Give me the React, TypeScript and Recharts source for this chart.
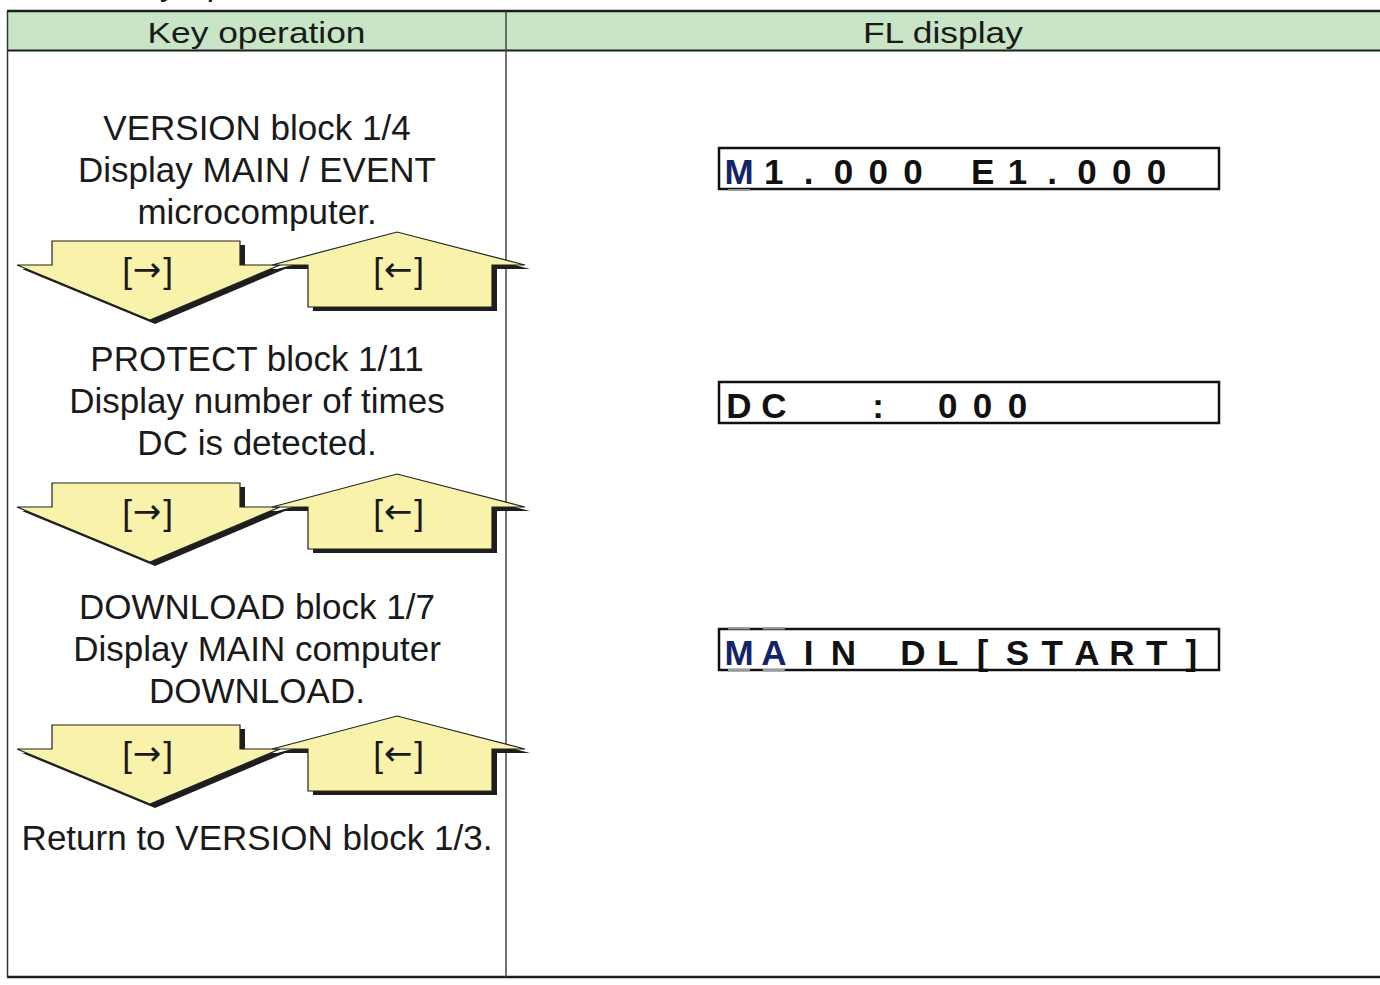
import React from 'react';
import { ComposedChart, XAxis, YAxis, Scatter, ReferenceArea, ReferenceLine } from 'recharts';

// ---------- content ----------
const headers = ['Key operation', 'FL display'];
const cutOffText = 'Key operation';
const blockTexts: string[][] = [
  ['VERSION block 1/4', 'Display MAIN / EVENT', 'microcomputer.'],
  ['PROTECT block 1/11', 'Display number of times', 'DC is detected.'],
  ['DOWNLOAD block 1/7', 'Display MAIN computer', 'DOWNLOAD.'],
  ['Return to VERSION block 1/3.'],
];
const arrowKeys = ['→', '←'];
const displayTexts = ['M1.000 E1.000', 'DC  : 000', 'MAIN DL[START]'];
const highlightCounts = [1, 0, 2];

// ---------- layout ----------
const W = 1380;
const H = 985;
const FONT = '"Liberation Sans", Arial, Helvetica, sans-serif';
const ARROW_FONT = '"DejaVu Sans", sans-serif';
const TABLE_LEFT = 7;
const DIVIDER = 506;
const TABLE_RIGHT = 1380;
const TOP_LINE = 11;
const HEADER_BOTTOM = 50.5;
const BOTTOM_LINE = 977;
const LEFT_CENTER = 257;
const BLOCK_BASELINES = [140, 371, 619, 850];
const LINE_HEIGHT = 42;
const ARROW_TOPS = [241, 483, 725];
const DISPLAY_TOPS = [148, 382, 629];
const BOX_LEFT = 719;
const BOX_RIGHT = 1219;
const BOX_H = 41;
const CELL_START = 739;
const CELL_PITCH = 34.8;

const TEXT_COLOR = '#1a1a1a';
const GREEN = '#c8e6c5';
const YELLOW = '#f9f2aa';
const NAVY = '#13236b';

const DOWN_ARROW = [[17, 24], [52, 24], [52, 0], [240, 0], [240, 24], [280, 24], [150, 79]];
const UP_ARROW = [[272, 24], [308, 24], [308, 66], [492, 66], [492, 24], [525, 24], [397, -9]];

const pts = (arr: number[][], ox: number, oy: number) =>
  arr.map(([a, b]) => `${a + ox},${b + oy}`).join(' ');

const TextShape = (props: any) => {
  const { cx, cy, payload } = props;
  return (
    <text
      x={cx}
      y={cy}
      textAnchor="middle"
      fontSize={payload.size}
      fontWeight={payload.weight || 'normal'}
      fill={payload.color || TEXT_COLOR}
      fontFamily={FONT}
    >
      {payload.text}
    </text>
  );
};

const KeyLabel = ({ x, y, arrow }: { x: number; y: number; arrow: string }) => (
  <g fill={TEXT_COLOR}>
    <text x={x - 20} y={y} textAnchor="middle" fontSize={35} fontFamily={FONT}>[</text>
    <text x={x} y={y - 2} textAnchor="middle" fontSize={34} fontFamily={ARROW_FONT}>{arrow}</text>
    <text x={x + 21} y={y} textAnchor="middle" fontSize={35} fontFamily={FONT}>]</text>
  </g>
);

const ArrowShape = (props: any) => {
  const { cx, cy } = props;
  return (
    <g>
      <polygon points={pts(DOWN_ARROW, cx + 5, cy + 4)} fill="#1e1e1e" />
      <polygon points={pts(DOWN_ARROW, cx, cy)} fill={YELLOW} stroke="#222" strokeWidth={1.2} strokeLinejoin="miter" />
      <polygon points={pts(UP_ARROW, cx + 5, cy + 4)} fill="#1e1e1e" />
      <polygon points={pts(UP_ARROW, cx, cy)} fill={YELLOW} stroke="#222" strokeWidth={1.2} strokeLinejoin="miter" />
      <KeyLabel x={cx + 147} y={cy + 42} arrow={arrowKeys[0]} />
      <KeyLabel x={cx + 398} y={cy + 42} arrow={arrowKeys[1]} />
    </g>
  );
};

const CharShape = (props: any) => {
  const { cx, cy, payload } = props;
  return (
    <g>
      {payload.hl && payload.bars ? (
        <>
          <rect x={cx - 11} y={cy - 38} width={22} height={2.5} fill="#9a9a9a" />
          <rect x={cx - 11} y={cy + 4} width={22} height={2.5} fill="#9a9a9a" />
        </>
      ) : null}
      {payload.hl && !payload.bars ? (
        <rect x={cx - 11} y={cy + 5} width={22} height={2} fill="#9a9a9a" />
      ) : null}
      <text
        x={cx}
        y={cy}
        textAnchor="middle"
        fontSize={35}
        fontWeight="bold"
        fill={payload.hl ? NAVY : '#111'}
        fontFamily={FONT}
      >
        {payload.ch}
      </text>
    </g>
  );
};

export default function App() {
  const textData: any[] = [];
  blockTexts.forEach((lines, bi) => {
    lines.forEach((t, li) => {
      textData.push({ x: LEFT_CENTER, y: BLOCK_BASELINES[bi] + li * LINE_HEIGHT, text: t, size: 35 });
    });
  });
  textData.push({ x: 225, y: -5, text: cutOffText, size: 35 });

  const arrowData = ARROW_TOPS.map((t) => ({ x: 0, y: t }));

  const charData: any[] = [];
  displayTexts.forEach((s, di) => {
    const baseline = DISPLAY_TOPS[di] + BOX_H - 5;
    s.split('').forEach((ch, ci) => {
      if (ch === ' ') return;
      charData.push({
        x: CELL_START + ci * CELL_PITCH,
        y: baseline,
        ch,
        hl: ci < highlightCounts[di],
        bars: di === 2,
      });
    });
  });

  const headerLabel = (text: string, len: number) => (p: any) => {
    const vb = p.viewBox || {};
    return (
      <text
        x={vb.x + vb.width / 2}
        y={vb.y + 32}
        textAnchor="middle"
        fontSize={30}
        fill={TEXT_COLOR}
        fontFamily={FONT}
        textLength={len}
        lengthAdjust="spacingAndGlyphs"
      >
        {text}
      </text>
    );
  };

  return (
    <div style={{ position: 'absolute', left: 0, top: 0, width: W, height: H, background: '#fff' }}>
      <ComposedChart width={W} height={H} margin={{ top: 0, right: 0, bottom: 0, left: 0 }}>
        <XAxis type="number" dataKey="x" domain={[0, W]} hide allowDataOverflow />
        <YAxis type="number" dataKey="y" domain={[0, H]} reversed hide allowDataOverflow />
        <ReferenceArea
          x1={TABLE_LEFT}
          x2={DIVIDER}
          y1={TOP_LINE}
          y2={HEADER_BOTTOM}
          fill={GREEN}
          fillOpacity={1}
          stroke="none"
          ifOverflow="visible"
          label={{ position: 'center', content: headerLabel(headers[0], 218) }}
        />
        <ReferenceArea
          x1={DIVIDER}
          x2={TABLE_RIGHT}
          y1={TOP_LINE}
          y2={HEADER_BOTTOM}
          fill={GREEN}
          fillOpacity={1}
          stroke="none"
          ifOverflow="visible"
          label={{ position: 'center', content: headerLabel(headers[1], 160) }}
        />
        {DISPLAY_TOPS.map((t, i) => (
          <ReferenceArea
            key={'box' + i}
            x1={BOX_LEFT}
            x2={BOX_RIGHT}
            y1={t}
            y2={t + BOX_H}
            fill="none"
            fillOpacity={0}
            stroke="#111"
            strokeWidth={2.5}
            ifOverflow="visible"
          />
        ))}
        <ReferenceLine segment={[{ x: TABLE_LEFT, y: TOP_LINE }, { x: TABLE_RIGHT, y: TOP_LINE }]} stroke="#1c1c1c" strokeWidth={2.5} ifOverflow="visible" />
        <ReferenceLine segment={[{ x: TABLE_LEFT, y: HEADER_BOTTOM }, { x: TABLE_RIGHT, y: HEADER_BOTTOM }]} stroke="#1c1c1c" strokeWidth={2} ifOverflow="visible" />
        <ReferenceLine segment={[{ x: TABLE_LEFT, y: BOTTOM_LINE }, { x: TABLE_RIGHT, y: BOTTOM_LINE }]} stroke="#1c1c1c" strokeWidth={2.5} ifOverflow="visible" />
        <ReferenceLine segment={[{ x: TABLE_LEFT + 0.5, y: TOP_LINE }, { x: TABLE_LEFT + 0.5, y: BOTTOM_LINE }]} stroke="#333" strokeWidth={1.5} ifOverflow="visible" />
        <ReferenceLine segment={[{ x: DIVIDER, y: TOP_LINE }, { x: DIVIDER, y: BOTTOM_LINE }]} stroke="#444" strokeWidth={1.5} ifOverflow="visible" />
        <Scatter data={arrowData} shape={ArrowShape} isAnimationActive={false} />
        <Scatter data={textData} shape={TextShape} isAnimationActive={false} />
        <Scatter data={charData} shape={CharShape} isAnimationActive={false} />
      </ComposedChart>
    </div>
  );
}
